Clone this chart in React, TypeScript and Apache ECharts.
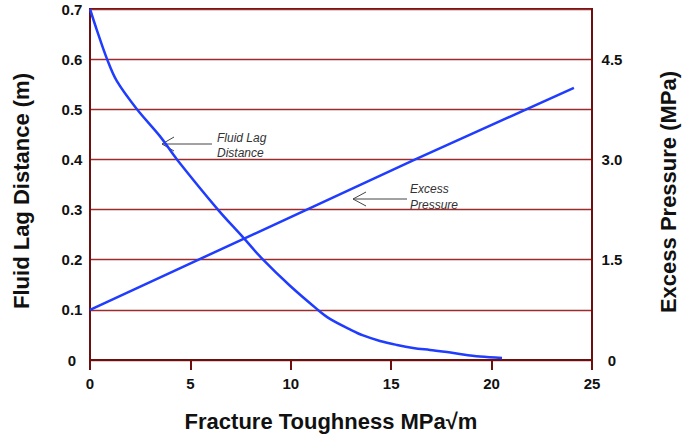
import React, { useEffect, useRef } from "react";
import * as echarts from "echarts";

// Fracture toughness (MPa√m) vs fluid lag distance (m)
const lagToughness = [0, 0.35, 0.85, 1.34, 2.34, 3.49, 4.33, 6.37, 7.57, 8.62, 9.96, 11.35, 11.95, 12.95, 13.6, 14.44, 15.29, 16.09, 16.93, 17.78, 18.58, 19.42, 20.52];
const lagDistance = [0.7, 0.657, 0.6, 0.556, 0.5, 0.446, 0.4, 0.3, 0.247, 0.2, 0.148, 0.1, 0.082, 0.061, 0.049, 0.038, 0.03, 0.024, 0.02, 0.016, 0.011, 0.007, 0.004];

// Fracture toughness (MPa√m) vs excess pressure (MPa)
const pressToughness = [0, 16.2, 24.1];
const excessPressure = [0.75, 3.0, 4.07];

const xTicks = { min: 0, max: 25, interval: 5 };
const leftTicks = { min: 0, max: 0.7, interval: 0.1 };
const rightTicks = { min: 0, max: 5.25, interval: 0.75, labelStep: 1.5 };

const FONT = 'Arial, "Liberation Sans", Helvetica, sans-serif';
const AXIS = "#6b0f0f";
const GRID = "#9c2c2c";
const BLUE = "#1f3cff";
const NOTE = "#333333";

export default function App() {
  const ref = useRef<HTMLDivElement>(null);
  useEffect(() => {
    if (!ref.current) return;
    const chart = echarts.init(ref.current, null, { renderer: "svg" });
    const lagData = lagToughness.map((x, i) => [x, lagDistance[i]]);
    const pressData = pressToughness.map((x, i) => [x, excessPressure[i]]);
    const tickLabel = { color: "#111", fontFamily: FONT, fontWeight: "bold" as const, fontSize: 15 };
    chart.setOption({
      animation: false,
      backgroundColor: "#ffffff",
      grid: {
        left: 90, right: 93, top: 9, bottom: 82,
        show: true, borderColor: AXIS, borderWidth: 2, backgroundColor: "transparent",
      },
      xAxis: {
        type: "value",
        min: xTicks.min, max: xTicks.max, interval: xTicks.interval,
        axisLine: { show: true, lineStyle: { color: AXIS, width: 2 } },
        axisTick: { show: true, length: 10, lineStyle: { color: AXIS, width: 2 } },
        axisLabel: { ...tickLabel, margin: 16 },
        splitLine: { show: false },
      },
      yAxis: [
        {
          type: "value",
          min: leftTicks.min, max: leftTicks.max, interval: leftTicks.interval,
          axisLine: { show: true, lineStyle: { color: AXIS, width: 2 } },
          axisTick: { show: false },
          axisLabel: {
            ...tickLabel, margin: 18, align: "center",
            formatter: (v: number) => (Math.abs(v) < 1e-9 ? "0" : v.toFixed(1)),
          },
          splitLine: { show: true, lineStyle: { color: GRID, width: 1.3 } },
        },
        {
          type: "value",
          position: "right",
          min: rightTicks.min, max: rightTicks.max, interval: rightTicks.interval,
          axisLine: { show: true, lineStyle: { color: AXIS, width: 2 } },
          axisTick: { show: false },
          axisLabel: {
            ...tickLabel, margin: 20, align: "center",
            formatter: (v: number) => {
              const r = v / rightTicks.labelStep;
              if (Math.abs(r - Math.round(r)) > 1e-6) return "";
              return Math.abs(v) < 1e-9 ? "0" : v.toFixed(1);
            },
          },
          splitLine: { show: false },
        },
      ],
      graphic: [
        {
          type: "text", x: 21, y: 191, rotation: Math.PI / 2,
          style: { text: "Fluid Lag Distance (m)", fill: "#111", font: `bold 22px ${FONT}`, textAlign: "center", textVerticalAlign: "middle" },
        },
        {
          type: "text", x: 668, y: 192, rotation: Math.PI / 2,
          style: { text: "Excess Pressure (MPa)", fill: "#111", font: `bold 22px ${FONT}`, textAlign: "center", textVerticalAlign: "middle" },
        },
        {
          type: "text", x: 331, y: 421,
          style: { text: "Fracture Toughness MPa√m", fill: "#111", font: `bold 22px ${FONT}`, textAlign: "center", textVerticalAlign: "middle" },
        },
        {
          type: "text", x: 217, y: 138,
          style: { text: "Fluid Lag", fill: NOTE, font: `italic 12px ${FONT}`, textAlign: "left", textVerticalAlign: "middle" },
        },
        {
          type: "text", x: 217, y: 153,
          style: { text: "Distance", fill: NOTE, font: `italic 12px ${FONT}`, textAlign: "left", textVerticalAlign: "middle" },
        },
        {
          type: "text", x: 410, y: 189,
          style: { text: "Excess", fill: NOTE, font: `italic 12px ${FONT}`, textAlign: "left", textVerticalAlign: "middle" },
        },
        {
          type: "text", x: 410, y: 205,
          style: { text: "Pressure", fill: NOTE, font: `italic 12px ${FONT}`, textAlign: "left", textVerticalAlign: "middle" },
        },
        { type: "line", shape: { x1: 162, y1: 144, x2: 212, y2: 144 }, style: { stroke: "#444", lineWidth: 1 } },
        { type: "polyline", shape: { points: [[174, 137], [162, 144], [174, 151]] }, style: { stroke: "#444", lineWidth: 1, fill: "none" } },
        { type: "line", shape: { x1: 353, y1: 199, x2: 407, y2: 199 }, style: { stroke: "#444", lineWidth: 1 } },
        { type: "polyline", shape: { points: [[366, 192], [353, 199], [366, 206]] }, style: { stroke: "#444", lineWidth: 1, fill: "none" } },
      ],
      series: [
        {
          name: "Fluid Lag Distance", type: "line", yAxisIndex: 0, data: lagData,
          showSymbol: false, smooth: 0.35, lineStyle: { color: BLUE, width: 2.5 },
        },
        {
          name: "Excess Pressure", type: "line", yAxisIndex: 1, data: pressData,
          showSymbol: false, lineStyle: { color: BLUE, width: 2.5 },
        },
      ],
    });
    return () => chart.dispose();
  }, []);
  return <div ref={ref} style={{ position: "fixed", left: 0, top: 0, width: 685, height: 442 }} />;
}
